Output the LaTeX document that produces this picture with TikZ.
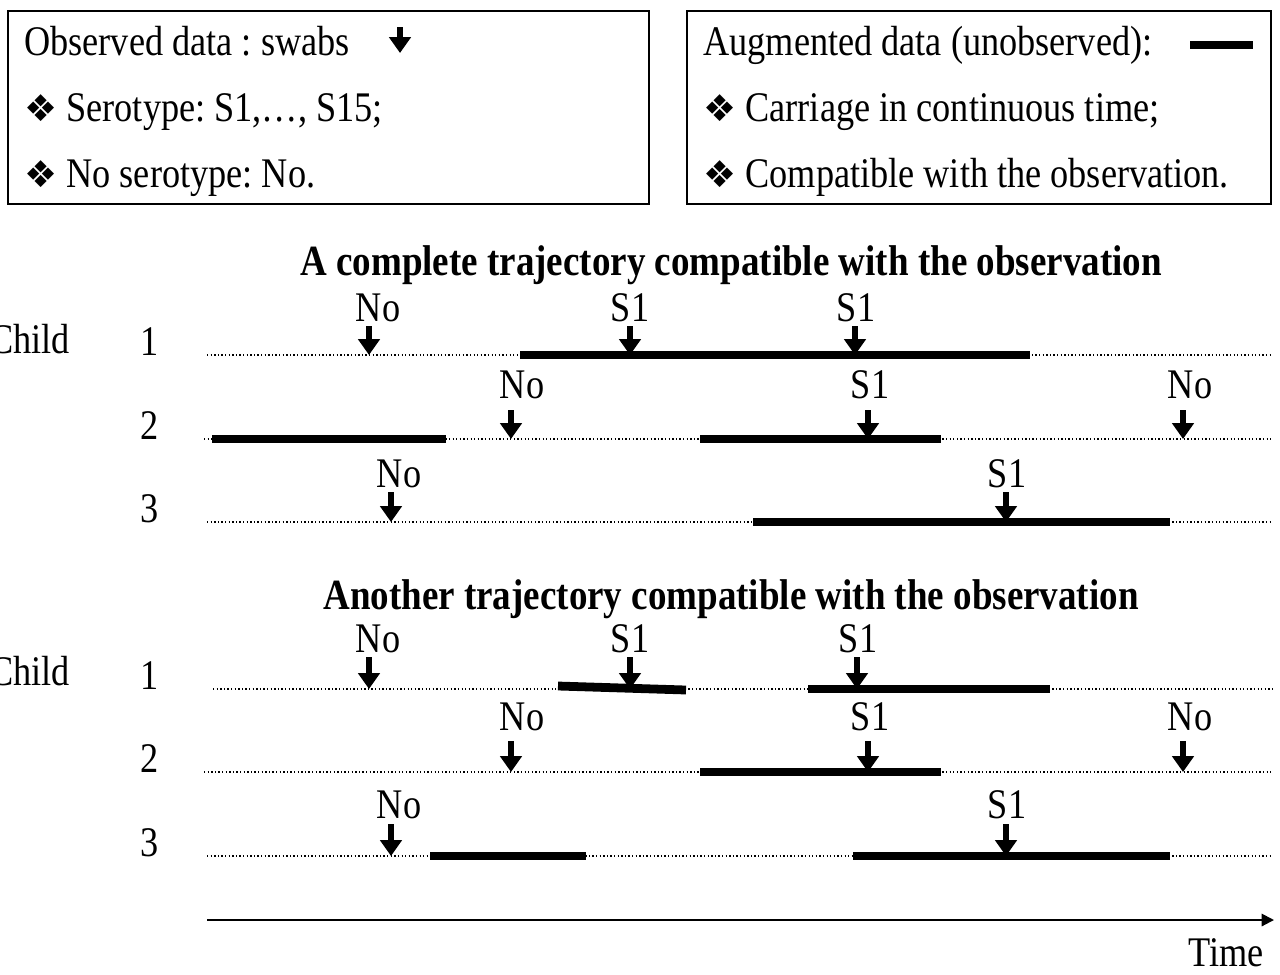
\documentclass[tikz,border=0pt]{standalone}
\usepackage{fontspec}
\setmainfont{Liberation Serif}[FakeStretch=0.86]
\newfontfamily\dingfont{DejaVu Sans}
\usetikzlibrary{arrows.meta}
\frenchspacing

\tikzset{
  legendbox/.style={line width=0.8pt},
  legendtext/.style={anchor=base west, inner sep=0pt},
  track/.style={line width=0.75pt, dash pattern=on 0.75pt off 1.3pt},
  carriage/.style={line width=5pt},
  swab/.style={line width=3.2pt, -{Triangle[width=12pt,length=9pt]}},
  swablabel/.style={anchor=base, inner sep=0pt},
  rowlabel/.style={anchor=base, inner sep=0pt},
  panel/.style={anchor=base, inner sep=0pt, font=\fontsize{24.5}{28}\selectfont\bfseries},
  timeaxis/.style={line width=1.1pt, -{Triangle[width=7pt,length=7pt]}}
}
\newcommand{\dia}{{\dingfont\fontsize{21}{24}\selectfont ❖}}

\begin{document}
\begin{tikzpicture}[x=0.02cm, y=-0.02cm, font=\fontsize{24}{28}\selectfont]
\useasboundingbox (0,0) rectangle (1280,974);

% legend: observed data
\draw[legendbox] (8,11) rectangle (649,204);
\node[legendtext] (obs) at (24,55) {Observed data : swabs};
\node[legendtext] (sero) at (24,121) {\dia\ Serotype: S1,\ldots, S15;};
\node[legendtext] (nosero) at (24,187) {\dia\ No serotype: No.};
\coordinate (keytop) at (400,27);
\coordinate (keytip) at (400,53);
\draw[swab] (keytop) -- (keytip);

% legend: augmented data
\draw[legendbox] (687,11) rectangle (1271,204);
\node[legendtext] (aug) at (703,55) {Augmented data (unobserved):};
\node[legendtext] (carr) at (703,121) {\dia\ Carriage in continuous time;};
\node[legendtext] (comp) at (703,187) {\dia\ Compatible with the observation.};
\coordinate (keya) at (1190,45);
\coordinate (keyb) at (1253,45);
\draw[carriage] (keya) -- (keyb);

% panel titles
\node[panel] (title1) at (731,275) {A complete trajectory compatible with the observation};
\node[panel] (title2) at (731,609) {Another trajectory compatible with the observation};

% children
\node[anchor=base east, inner sep=0pt] (childt) at (70,353) {Child};
\node[anchor=base east, inner sep=0pt] (childb) at (70,685) {Child};
\foreach \r/\y/\n in {t1/355/1, t2/439/2, t3/522/3, b1/689/1, b2/772/2, b3/856/3}
  \node[rowlabel] (num\r) at (150,\y) {\n};

% dotted time lines
\foreach \r/\y/\s in {t1/355/207, t2/439/204, t3/522/207, b1/689/213, b2/772/204, b3/856/207} {
  \coordinate (\r w) at (\s,\y);
  \coordinate (\r e) at (1272,\y);
  \draw[track] (\r w) -- (\r e);
}

% carriage episodes
\foreach \y/\a/\b in {355/520/1030, 439/212/446, 439/700/941, 522/753/1170,
                      689/808/1050, 772/700/941, 856/430/586, 856/853/1170}
  \draw[carriage] (\a,\y) -- (\b,\y);
\draw[carriage] (558,686) -- (686,690);

% swabs
\foreach \x/\lx/\y/\t/\b/\lab [count=\i] in {
    369/378/355/326/321/No, 630/630/355/326/321/S1, 855/856/355/326/321/S1,
    511/522/439/410/398/No, 868/870/439/410/398/S1, 1183/1190/439/410/398/No,
    391/399/522/492/487/No, 1006/1007/522/492/487/S1,
    369/378/689/657/652/No, 630/630/689/657/652/S1, 857/858/689/657/652/S1,
    511/522/772/741/730/No, 868/870/772/741/730/S1, 1183/1190/772/741/730/No,
    391/399/856/824/818/No, 1006/1007/856/824/818/S1} {
  \coordinate (top\i) at (\x,\t);
  \coordinate (tip\i) at (\x,\y);
  \node[swablabel] (lab\i) at (\lx,\b) {\lab};
  \draw[swab] (top\i) -- (tip\i);
}

% time axis
\coordinate (time0) at (207,920);
\coordinate (time1) at (1274,920);
\draw[timeaxis] (time0) -- (time1);
\node[anchor=base east, inner sep=0pt] (time) at (1264,966) {Time};
\end{tikzpicture}
\end{document}
